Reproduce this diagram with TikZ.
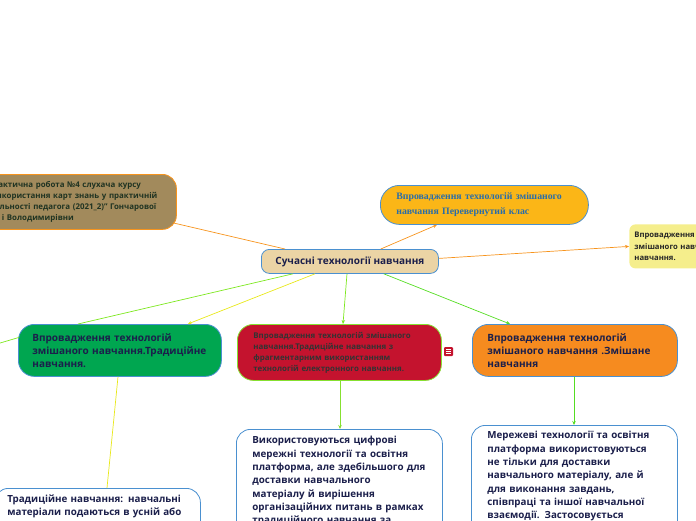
\documentclass[tikz,border=0pt]{standalone}
\usepackage{fontspec}
\setmainfont{Open Sans}
\newfontfamily\serifbold{Liberation Serif}
\usetikzlibrary{arrows.meta,calc}
\definecolor{bluebord}{HTML}{4A90D0}
\definecolor{navy}{HTML}{1B1F4B}
\definecolor{cfill}{HTML}{EBD4A5}
\definecolor{bfill}{HTML}{A28A5C}
\definecolor{pfill}{HTML}{FBB617}
\definecolor{yfill}{HTML}{F5EE8C}
\definecolor{gfill}{HTML}{00A650}
\definecolor{rfill}{HTML}{C4132E}
\definecolor{ofill}{HTML}{F68B1F}
\definecolor{lorange}{HTML}{F7941D}
\definecolor{lgreen}{HTML}{7DE81E}
\definecolor{lyellow}{HTML}{E8E81A}
\definecolor{lgreen2}{HTML}{55DD22}
\definecolor{redbord}{HTML}{86E030}
\definecolor{ptext}{HTML}{2A6DA8}
\definecolor{btext}{HTML}{1F3322}
\tikzset{
  box/.style={draw=bluebord, line width=0.8pt, anchor=north west, align=left, font=\bfseries, text=navy},
  conn/.style={line width=0.7pt},
  tip/.style={-{Stealth[length=4pt,width=3.5pt]}}
}
\begin{document}
\begin{tikzpicture}[x=1pt,y=-1pt]
\useasboundingbox (0,0) rectangle (696,520);
\clip (0,0) rectangle (696,520);
% main nodes
\node[box, draw=lorange, fill=bfill, text=btext, rounded corners=14pt, minimum width=202pt, minimum height=55pt, inner xsep=13pt, text width=176pt, font=\bfseries\fontsize{7.9}{11}\selectfont] (b) at (-26,174)
 {Практична робота №4 слухача курсу\\"Використання карт знань у практичній\\діяльності педагога (2021\_2)" Гончарової\\\hphantom{Ган}і Володимирівни};
\node[box, fill=pfill, text=ptext, rounded corners=19pt, minimum width=208pt, minimum height=39pt, inner xsep=16pt, text width=176pt, font=\serifbold\bfseries\fontsize{9.8}{15}\selectfont] (p) at (380,185)
 {Впровадження технологій змішаного\\навчання Перевернутий клас};
\node[box, draw=none, fill=yfill, text=black!85, rounded corners=6pt, minimum width=140pt, minimum height=44pt, inner xsep=5pt, text width=130pt, font=\bfseries\fontsize{7.7}{11.5}\selectfont] (y) at (629,224)
 {Впровадження технологій\\змішаного навчання\\навчання.};
\node[box, fill=cfill, rounded corners=8pt, minimum width=177pt, minimum height=24pt, align=center, font=\bfseries\fontsize{10}{12}\selectfont] (c) at (261,249)
 {Сучасні технології навчання};
\node[box, fill=gfill, rounded corners=16pt, minimum width=203pt, minimum height=52pt, inner xsep=14pt, text width=175pt, font=\bfseries\fontsize{10}{13}\selectfont] (g) at (18,324)
 {Впровадження технологій\\змішаного навчання.Традиційне\\навчання.};
\node[box, draw=redbord, fill=rfill, text=black!80, rounded corners=16pt, minimum width=204pt, minimum height=56pt, inner xsep=16pt, text width=172pt, font=\bfseries\fontsize{7.9}{11}\selectfont] (r) at (237,324)
 {Впровадження технологій змішаного\\навчання.Традиційне навчання з\\фрагментарним використанням\\технологій електронного навчання.};
\node[box, fill=ofill, rounded corners=16pt, minimum width=205pt, minimum height=52pt, inner xsep=15pt, text width=175pt, font=\bfseries\fontsize{10}{13}\selectfont] (o) at (472,324)
 {Впровадження технологій\\змішаного навчання .Змішане\\навчання};
% note icon
\node[draw=none, fill=rfill, rounded corners=1pt, minimum size=9pt, inner sep=0pt] (note) at (448.5,351.5) {};
\draw[white, line width=0.5pt] ($(note.center)+(-2.5,-2)$) -- +(5,0) ($(note.center)+(-2.5,0)$) -- +(5,0) ($(note.center)+(-2.5,2)$) -- +(5,0);
% children
\node[box, fill=white, rounded corners=14pt, minimum width=206pt, inner xsep=16pt, inner ysep=7pt, text width=174pt, font=\bfseries\fontsize{9.8}{13.3}\selectfont] (rc) at (236,429)
 {Використовуються цифрові\\мережні технології та освітня\\платформа, але здебільшого для\\доставки навчального\\матеріалу й вирішення\\організаційних питань в рамках\\традиційного навчання за\\\rule{0pt}{30pt}};
\node[box, fill=white, rounded corners=14pt, minimum width=206pt, inner xsep=16pt, inner ysep=6pt, text width=174pt, font=\bfseries\fontsize{9.8}{13.3}\selectfont] (oc) at (471,425)
 {Мережеві технології та освітня\\платформа використовуються\\не тільки для доставки\\навчального матеріалу, але й\\для виконання завдань,\\співпраці та іншої навчальної\\взаємодії. Застосовується\\\rule{0pt}{30pt}};
\node[box, fill=white, rounded corners=14pt, minimum width=206pt, inner xsep=13pt, inner ysep=6pt, text width=180pt, font=\bfseries\fontsize{9.8}{13.3}\selectfont] (gc) at (-6,488)
 {Традиційне навчання: навчальні\\матеріали подаються в усній або\\\rule{0pt}{30pt}};
\coordinate (off) at (-10,346);
% connectors
\draw[conn, lorange] ([xshift=24pt]c.north west) -- ([xshift=-4pt,yshift=7pt]b.south east);
\draw[conn, lorange, tip] ([xshift=-58pt]c.north east) -- ([xshift=57pt]p.south west);
\draw[conn, lorange, tip] ([yshift=3pt]c.east) -- ([yshift=0pt]y.west);
\draw[conn, lgreen] ([xshift=32pt]c.south west) -- ([xshift=60pt]g.north west);
\draw[conn, lyellow, tip] ([xshift=54pt]c.south west) -- ([xshift=-34pt]g.north east);
\draw[conn, lgreen, tip] ([xshift=86pt]c.south west) -- ([xshift=106pt]r.north west);
\draw[conn, lgreen2, tip] ([xshift=-55pt]c.south east) -- ([xshift=38pt]o.north west);
\draw[conn, lyellow] ([xshift=100pt]g.south west) -- ([xshift=113pt]gc.north west);
\draw[conn, lgreen] ([xshift=1pt,yshift=13pt]g.west) -- (off);
\draw[conn, redbord, tip] ([xshift=103pt]r.south west) -- ([xshift=104pt]rc.north west);
\draw[conn, lgreen2, tip] ([xshift=102pt]o.south west) -- ([xshift=103pt]oc.north west);
\end{tikzpicture}
\end{document}
